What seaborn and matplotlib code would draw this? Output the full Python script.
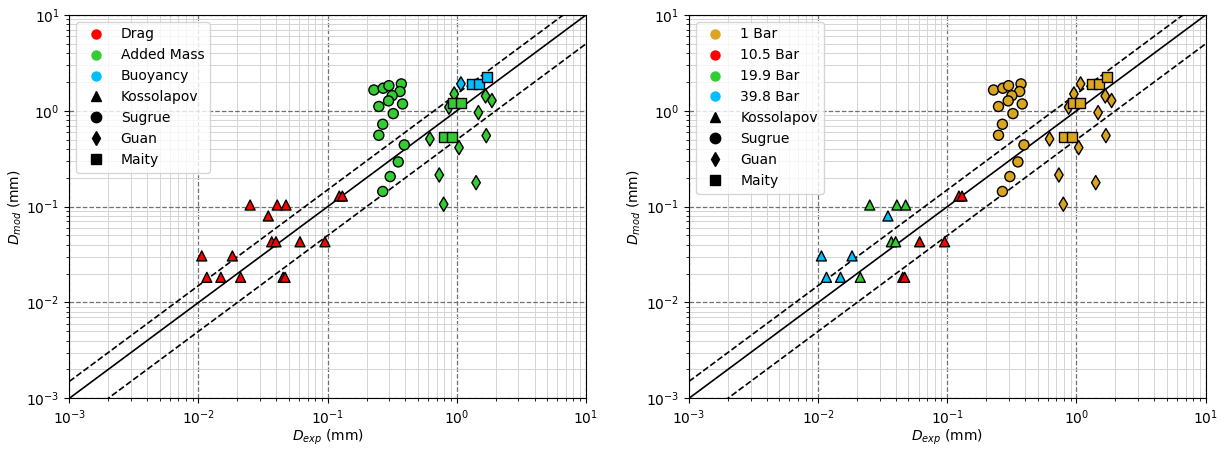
import numpy as np
import pandas as pd
import matplotlib
matplotlib.use("Agg")
import matplotlib.pyplot as plt
from matplotlib.lines import Line2D
import seaborn as sns

# ---------------- data ----------------
kos_x = [0.0251, 0.0407, 0.0476, 0.0347, 0.0369, 0.0398, 0.0611, 0.0953,
         0.0106, 0.0183, 0.0116, 0.0149, 0.0212, 0.0452, 0.0468, 0.123, 0.130]
kos_y = [0.104, 0.104, 0.104, 0.080, 0.043, 0.043, 0.043, 0.043,
         0.0306, 0.0306, 0.0183, 0.0183, 0.0183, 0.0183, 0.0183, 0.129, 0.129]
kos_force = ["Drag"] * 17
kos_pressure = ["19.9 Bar", "19.9 Bar", "19.9 Bar", "39.8 Bar", "19.9 Bar", "19.9 Bar",
                "10.5 Bar", "10.5 Bar", "39.8 Bar", "39.8 Bar", "39.8 Bar", "39.8 Bar",
                "19.9 Bar", "10.5 Bar", "10.5 Bar", "10.5 Bar", "10.5 Bar"]

sug_x = [0.228, 0.269, 0.298, 0.372, 0.363, 0.316, 0.296, 0.249,
         0.380, 0.322, 0.267, 0.249, 0.392, 0.352, 0.305, 0.267]
sug_y = [1.65, 1.72, 1.83, 1.91, 1.59, 1.44, 1.27, 1.11,
         1.18, 0.935, 0.724, 0.556, 0.441, 0.293, 0.206, 0.144]
sug_force = ["Added Mass"] * 16
sug_pressure = ["1 Bar"] * 16

guan_x = [1.076, 0.955, 0.869, 1.67, 1.87, 1.47, 0.619, 1.69, 1.04, 0.731, 1.41, 0.791]
guan_y = [1.91, 1.50, 1.09, 1.43, 1.28, 0.958, 0.509, 0.551, 0.413, 0.214, 0.178, 0.106]
guan_force = ["Buoyancy"] + ["Added Mass"] * 11
guan_pressure = ["1 Bar"] * 12

maity_x = [0.938, 1.07, 0.794, 0.916, 1.32, 1.49, 1.71]
maity_y = [1.20, 1.20, 0.530, 0.530, 1.91, 1.91, 2.24]
maity_force = ["Added Mass"] * 4 + ["Buoyancy"] * 3
maity_pressure = ["1 Bar"] * 7

sources = ["Kossolapov", "Sugrue", "Guan", "Maity"]
forces = ["Drag", "Added Mass", "Buoyancy"]
pressures = ["1 Bar", "10.5 Bar", "19.9 Bar", "39.8 Bar"]

ref_x = [1e-3, 1e1]
band_hi = 1.5
band_lo = 0.5

# ---------------- styles ----------------
force_colors = {"Drag": "#ff0000", "Added Mass": "#33cc33", "Buoyancy": "#00bfff"}
pressure_colors = {"1 Bar": "#daa520", "10.5 Bar": "#ff0000",
                   "19.9 Bar": "#33cc33", "39.8 Bar": "#00bfff"}
source_markers = {"Kossolapov": "^", "Sugrue": "o", "Guan": "d", "Maity": "s"}

frames = []
for name, xs, ys, fs, ps in [
    ("Kossolapov", kos_x, kos_y, kos_force, kos_pressure),
    ("Sugrue", sug_x, sug_y, sug_force, sug_pressure),
    ("Guan", guan_x, guan_y, guan_force, guan_pressure),
    ("Maity", maity_x, maity_y, maity_force, maity_pressure),
]:
    frames.append(pd.DataFrame({"x": xs, "y": ys, "force": fs,
                                "pressure": ps, "source": name}))
df = pd.concat(frames, ignore_index=True)

plt.rcParams["font.family"] = ["DejaVu Sans"]
plt.rcParams["font.size"] = 10
plt.rcParams["mathtext.fontset"] = "dejavusans"

fig = plt.figure(figsize=(12.29, 4.49), dpi=100)
ax1 = fig.add_axes([0.0564, 0.1129, 0.4204, 0.8537])
ax2 = fig.add_axes([0.5606, 0.1129, 0.4204, 0.8537])

def setup(ax):
    ax.set_xscale("log")
    ax.set_yscale("log")
    ax.set_xlim(1e-3, 1e1)
    ax.set_ylim(1e-3, 1e1)
    ax.set_axisbelow(True)
    ax.grid(which="minor", linestyle="-", color="#d4d4d4", linewidth=0.7)
    ax.grid(which="major", linestyle="--", color="#707070", linewidth=0.9)
    rx = np.array(ref_x)
    ax.plot(rx, rx, color="black", linewidth=1.2, zorder=2)
    ax.plot(rx, band_hi * rx, color="black", linestyle="--", linewidth=1.2, zorder=2)
    ax.plot(rx, band_lo * rx, color="black", linestyle="--", linewidth=1.2, zorder=2)

for ax, hue, pal, labels in [(ax1, "force", force_colors, forces),
                             (ax2, "pressure", pressure_colors, pressures)]:
    setup(ax)
    sns.scatterplot(data=df, x="x", y="y", hue=hue, style="source",
                    palette=pal, markers=source_markers, style_order=sources,
                    hue_order=labels, s=52, edgecolor="black", linewidth=1.0,
                    legend=False, ax=ax, zorder=3)
    ax.set_xlabel("$D_{exp}$ (mm)", labelpad=1)
    ax.set_ylabel("$D_{mod}$ (mm)", labelpad=2)
    handles = [Line2D([], [], linestyle="none", marker="o", markersize=7.5,
                      markerfacecolor=pal[l], markeredgecolor="none", label=l)
               for l in labels]
    handles += [Line2D([], [], linestyle="none", marker=source_markers[s],
                       markersize=7.5, markerfacecolor="black",
                       markeredgecolor="black", label=s) for s in sources]
    ax.legend(handles=handles, loc="upper left", fontsize=10)

fig.savefig("out.png", dpi=100)
